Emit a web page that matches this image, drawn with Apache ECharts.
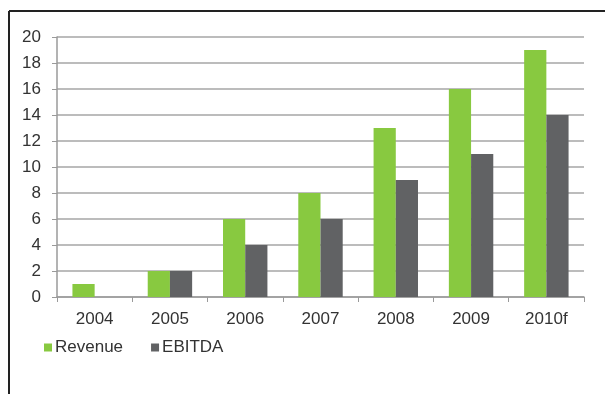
<!DOCTYPE html>
<html><head><meta charset="utf-8">
<script src="https://cdn.jsdelivr.net/npm/echarts@6/dist/echarts.min.js"></script>
<style>html,body{margin:0;padding:0;background:#fff}#c{width:605px;height:394px}</style>
</head><body><div id="c"></div>
<script>
const categories = ['2004','2005','2006','2007','2008','2009','2010f'];
const revenue = [1, 2, 6, 8, 13, 16, 19];
const ebitda = [null, 2, 4, 6, 9, 11, 14];
const yTicks = [0, 2, 4, 6, 8, 10, 12, 14, 16, 18, 20];

const chart = echarts.init(document.getElementById('c'), null, {renderer: 'canvas'});
const font = 'Liberation Sans, Arial, sans-serif';
chart.setOption({
  animation: false,
  backgroundColor: '#fff',
  textStyle: {fontFamily: font},
  graphic: [
    {type: 'line', shape: {x1: 9, y1: 11, x2: 605, y2: 11}, style: {stroke: '#222', lineWidth: 2}},
    {type: 'line', shape: {x1: 9, y1: 11, x2: 9, y2: 394}, style: {stroke: '#222', lineWidth: 2}}
  ],
  grid: {left: 57, right: 21, top: 37, bottom: 97, containLabel: false},
  legend: {
    left: 39, top: 334,
    itemWidth: 8, itemHeight: 8, itemGap: 28,
    icon: 'rect',
    textStyle: {fontSize: 17, color: '#333', fontFamily: font, padding: [0, 0, 0, -2]},
    data: ['Revenue', 'EBITDA']
  },
  xAxis: {
    type: 'category', data: categories,
    axisLine: {lineStyle: {color: '#9a9a9a', width: 1.5}},
    axisTick: {show: true, inside: false, length: 5, lineStyle: {color: '#9a9a9a'}},
    axisLabel: {fontSize: 17, color: '#333', margin: 14, fontFamily: font}
  },
  yAxis: {
    type: 'value', min: yTicks[0], max: yTicks[yTicks.length - 1], interval: 2,
    axisLine: {show: true, lineStyle: {color: '#9a9a9a', width: 1.5}},
    axisTick: {show: true, length: 5, lineStyle: {color: '#9a9a9a'}},
    splitLine: {lineStyle: {color: '#a6a6a6', width: 1.5}},
    axisLabel: {fontSize: 17, color: '#333', margin: 16, fontFamily: font}
  },
  series: [
    {name: 'Revenue', type: 'bar', data: revenue, barGap: '0%', barCategoryGap: '41%',
     itemStyle: {color: '#88c940'}},
    {name: 'EBITDA', type: 'bar', data: ebitda,
     itemStyle: {color: '#616264'}}
  ]
});
</script></body></html>
